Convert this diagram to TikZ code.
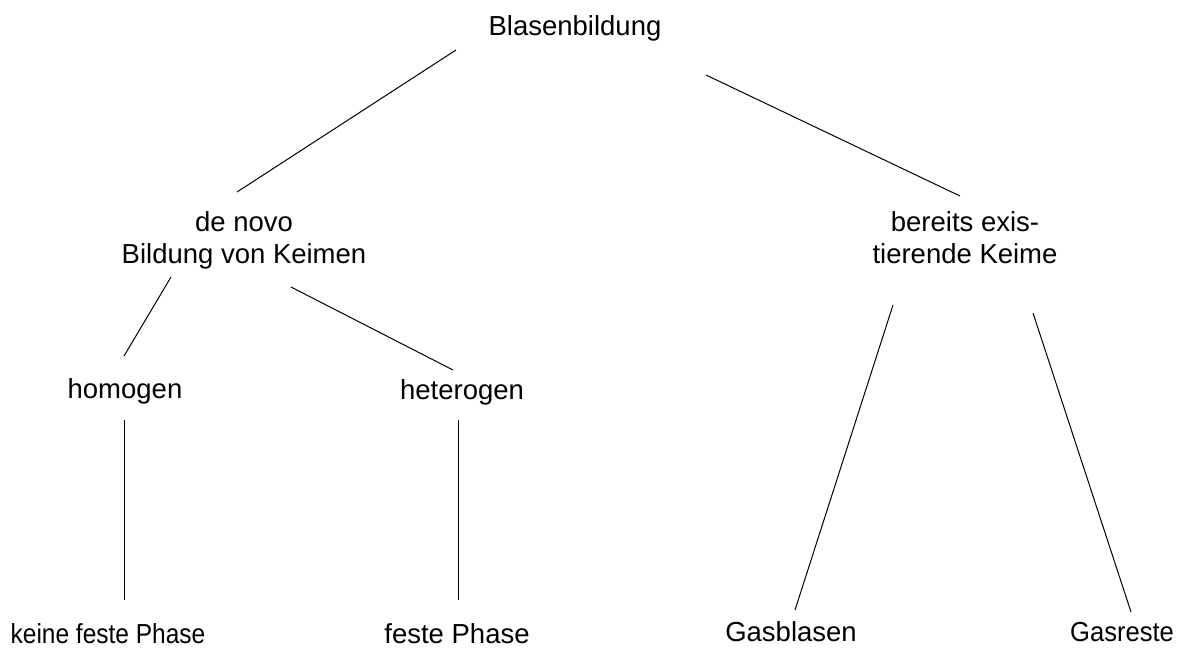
\documentclass[tikz,border=0pt]{standalone}
\usepackage{fontspec}
\setmainfont{Liberation Sans}
\begin{document}
\begin{tikzpicture}[x=1pt,y=-1pt,
  lbl/.style={anchor=base,inner sep=0pt,align=center,font=\fontsize{27.5}{32}\selectfont},
  conn/.style={line width=1pt,black}]
\useasboundingbox (0,0) rectangle (1193,649);
\node[lbl] (root) at (575,35) {Blasenbildung};
\node[lbl] (denovo) at (244,263) {de novo\\Bildung von Keimen};
\node[lbl] (bereits) at (965,263) {bereits exis-\\tierende Keime};
\node[lbl] (homo) at (125,398) {homogen};
\node[lbl] (hetero) at (462,399) {heterogen};
\node[lbl] (keine) at (108,643) {\scalebox{0.89}[1]{keine feste Phase}};
\node[lbl] (feste) at (457,643) {feste Phase};
\node[lbl] (gasbl) at (791,641) {Gasblasen};
\node[lbl] (gasre) at (1122,641) {\scalebox{0.93}[1]{Gasreste}};
\coordinate (r1) at (456,50);   \coordinate (d1) at (237,192);
\coordinate (r2) at (706,75);   \coordinate (b1) at (960,196);
\coordinate (d2) at (171,277);  \coordinate (h1) at (124,356);
\coordinate (d3) at (291,287);  \coordinate (t1) at (453,370);
\coordinate (h2) at (124,420);  \coordinate (k1) at (124,600);
\coordinate (t2) at (458,420);  \coordinate (f1) at (458,600);
\coordinate (b2) at (893,305);  \coordinate (g1) at (795,610);
\coordinate (b3) at (1033,313); \coordinate (g2) at (1131,612);
\draw[conn] (r1) -- (d1);
\draw[conn] (r2) -- (b1);
\draw[conn] (d2) -- (h1);
\draw[conn] (d3) -- (t1);
\draw[conn] (h2) -- (k1);
\draw[conn] (t2) -- (f1);
\draw[conn] (b2) -- (g1);
\draw[conn] (b3) -- (g2);
\end{tikzpicture}
\end{document}
